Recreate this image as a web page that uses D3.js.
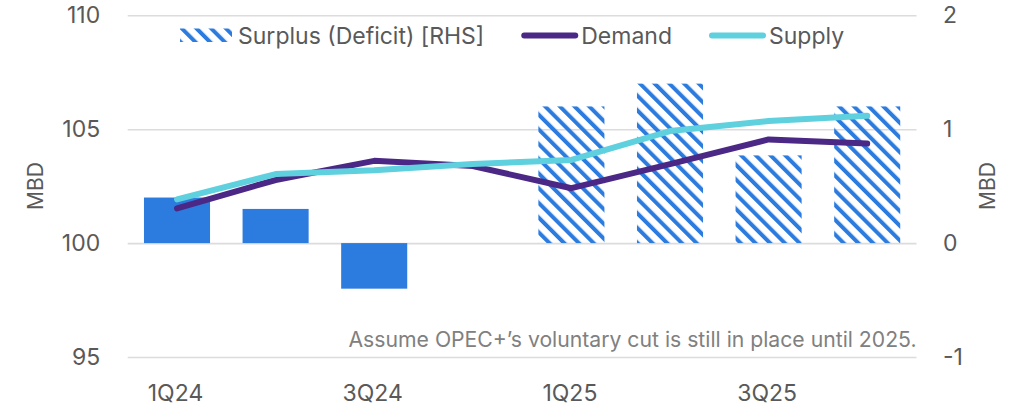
<!DOCTYPE html>
<html>
<head>
<meta charset="utf-8">
<script src="https://cdn.jsdelivr.net/npm/d3@7"></script>
<style>
  body { margin: 0; background: #fff; }
  text { font-family: Inter, "Noto Sans", sans-serif; fill: #595959; }
</style>
</head>
<body>
<div id="chart"></div>
<script>
// data
var quarters = ["1Q24", "2Q24", "3Q24", "4Q24", "1Q25", "2Q25", "3Q25", "4Q25"];
var tickQuarters = ["1Q24", "3Q24", "1Q25", "3Q25"];
var demand = [101.52, 102.77, 103.61, 103.38, 102.41, 103.47, 104.55, 104.37];
var supply = [101.92, 103.03, 103.20, 103.47, 103.65, 104.92, 105.36, 105.59];
var surplus = [0.4, 0.3, -0.4, 0, 1.2, 1.4, 0.77, 1.2];
var forecast = [false, false, false, false, true, true, true, true];
var leftTicks = [95, 100, 105, 110];
var rightTicks = [-1, 0, 1, 2];
var seriesNames = ["Surplus (Deficit) [RHS]", "Demand", "Supply"];
var axisTitle = "MBD";
var note = "Assume OPEC+\u2019s voluntary cut is still in place until 2025.";

var W = 1020, H = 411;
var margin = {top: 15.3, right: 103.5, bottom: 54, left: 127.7};
var width = W - margin.left - margin.right,
    height = H - margin.top - margin.bottom;

var colors = {bar: "#2b7cde", demand: "#4b2885", supply: "#5fd0de", grid: "#dcdcdc"};

var svg = d3.select("#chart").append("svg")
  .attr("width", W).attr("height", H);

// hatch pattern for forecast bars
var defs = svg.append("defs");
defs.append("pattern")
  .attr("id", "hatch")
  .attr("patternUnits", "userSpaceOnUse")
  .attr("width", 10.4).attr("height", 10.4)
  .attr("patternTransform", "rotate(-45)")
  .append("rect")
  .attr("width", 4).attr("height", 10.4)
  .attr("fill", colors.bar);

var g = svg.append("g")
  .attr("transform", "translate(" + margin.left + "," + margin.top + ")");

var x = d3.scaleBand().domain(quarters).range([0, width])
  .paddingInner(0.33).paddingOuter(0.165);
var yL = d3.scaleLinear().domain([95, 110]).range([height, 0]);
var yR = d3.scaleLinear().domain([-1, 2]).range([height, 0]);

// gridlines
g.append("g")
  .call(d3.axisLeft(yL).tickValues(leftTicks).tickSize(-width).tickFormat(""))
  .call(s => s.select(".domain").remove())
  .selectAll("line").attr("stroke", colors.grid).attr("stroke-width", 1.6);

// left axis
var gl = g.append("g")
  .call(d3.axisLeft(yL).tickValues(leftTicks).tickSize(0).tickPadding(27.5));
gl.select(".domain").remove();
gl.attr("font-family", null).attr("font-size", 23);
gl.selectAll("text").attr("fill", "#595959");

// right axis
var gr = g.append("g")
  .attr("transform", "translate(" + width + ",0)")
  .call(d3.axisRight(yR).tickValues(rightTicks).tickSize(0).tickPadding(26.5)
    .tickFormat(d => String(d)));
gr.select(".domain").remove();
gr.attr("font-family", null).attr("font-size", 23);
gr.selectAll("text").attr("fill", "#595959");

// bottom axis
var gb = g.append("g")
  .attr("transform", "translate(0," + height + ")")
  .call(d3.axisBottom(x).tickValues(tickQuarters).tickSize(0).tickPadding(28));
gb.select(".domain").remove();
gb.attr("font-family", null).attr("font-size", 23);
gb.selectAll("text").attr("fill", "#595959").attr("dx", -1.5);

// axis titles
svg.append("text")
  .attr("transform", "translate(35,186) rotate(-90)")
  .attr("text-anchor", "middle").attr("dominant-baseline", "central")
  .attr("font-size", 21).text(axisTitle);
svg.append("text")
  .attr("transform", "translate(987,186) rotate(-90)")
  .attr("text-anchor", "middle").attr("dominant-baseline", "central")
  .attr("font-size", 21).text(axisTitle);

// bars (right axis)
g.selectAll(".bar")
  .data(quarters.map((q, i) => ({q: q, v: surplus[i], f: forecast[i]})))
  .enter().append("rect")
  .attr("class", "bar")
  .attr("x", d => x(d.q))
  .attr("width", x.bandwidth())
  .attr("y", d => yR(Math.max(0, d.v)))
  .attr("height", d => Math.abs(yR(d.v) - yR(0)))
  .attr("fill", d => d.f ? "url(#hatch)" : colors.bar);

// lines (left axis)
var line = d3.line()
  .x((d, i) => x(quarters[i]) + x.bandwidth() / 2)
  .y(d => yL(d));

[[demand, colors.demand], [supply, colors.supply]].forEach(function(s) {
  g.append("path")
    .datum(s[0])
    .attr("d", line)
    .attr("fill", "none")
    .attr("stroke", s[1])
    .attr("stroke-width", 6)
    .attr("stroke-linecap", "round")
    .attr("stroke-linejoin", "round");
});

// legend
var legend = svg.append("g").attr("transform", "translate(180,0)");
var lx = 0;
seriesNames.forEach(function(name, i) {
  var item = legend.append("g").attr("transform", "translate(" + lx + ",0)");
  var sw = i === 0 ? 52 : 57;
  if (i === 0) {
    item.append("rect").attr("x", 0).attr("y", 28.5)
      .attr("width", sw).attr("height", 13.5).attr("fill", "url(#hatch)");
  } else {
    item.append("line").attr("x1", 3).attr("x2", sw - 3)
      .attr("y1", 35.5).attr("y2", 35.5)
      .attr("stroke", i === 1 ? colors.demand : colors.supply)
      .attr("stroke-width", 6).attr("stroke-linecap", "round");
  }
  var t = item.append("text")
    .attr("x", sw + (i === 0 ? 6 : 3)).attr("y", 43.5)
    .attr("font-size", 23).text(name);
  lx += sw + (i === 0 ? 6 : 3) + t.node().getComputedTextLength() + 37;
});

// note
svg.append("text")
  .attr("x", margin.left + width).attr("y", 347)
  .attr("text-anchor", "end")
  .attr("font-size", 21.2)
  .style("fill", "#808080")
  .text(note);
</script>
</body>
</html>
